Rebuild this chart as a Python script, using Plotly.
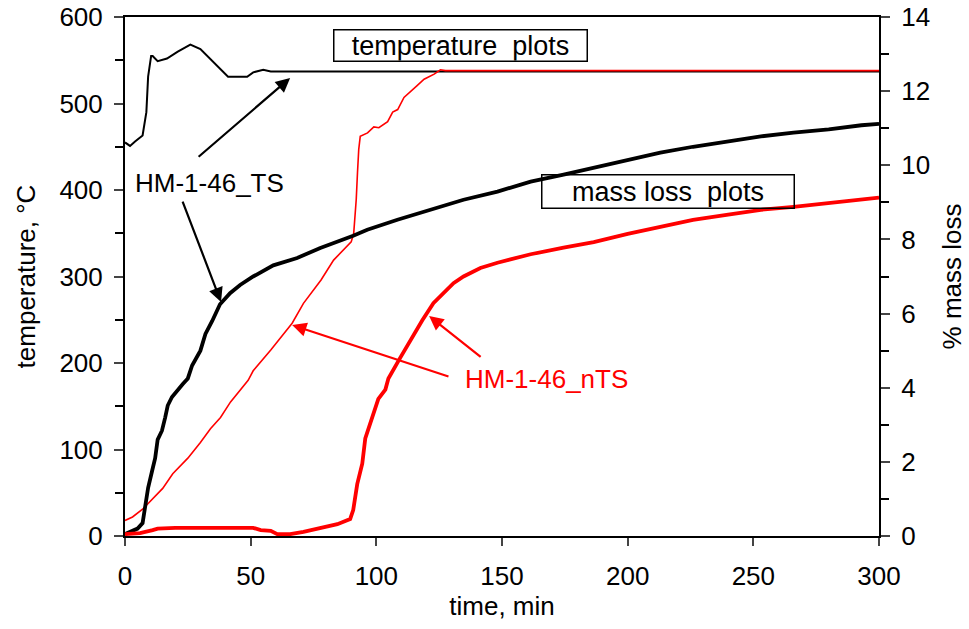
import plotly.graph_objects as go

# ---- temperature, HM-1-46_TS (left axis, degC) ----
ts_temp_t = [0, 2, 4, 7, 8.5, 9.2, 10.4, 11, 13, 16.7, 21, 26, 30, 34, 38, 41, 48.6, 51, 55, 58, 300]
ts_temp_v = [455, 451, 456, 463, 490, 531, 555, 555, 549, 552, 560, 568, 563, 551, 539, 531, 531, 536, 539, 537, 537]

# ---- temperature, HM-1-46_nTS (left axis, degC) ----
nts_temp_t = [0, 3, 7, 11, 15, 19, 25, 30, 34, 38, 42, 49, 51, 58, 66.5, 71, 78, 83, 88, 90, 91,
              92, 92.5, 93, 93.6, 95, 96.5, 99, 101, 104.5, 106.5, 108.5, 111, 116, 119, 123,
              125.5, 127.5, 300]
nts_temp_v = [18, 22, 31, 43, 55, 72, 90, 108, 124, 137, 155, 180, 191, 215, 246, 269, 296, 319, 334, 340, 350,
              389, 420, 447, 462, 464, 466, 473, 472, 479, 490, 493, 507, 520, 528, 534,
              539, 538, 538]

# ---- mass loss, HM-1-46_TS (right axis, %) ----
ts_mass_t = [0, 5, 7, 8, 9.2, 10.8, 12, 13, 14.7, 16, 17, 18.7, 20.7, 23, 25, 26.7, 30, 32, 34.7, 37.8,
             41.8, 45.8, 51, 59, 68.5, 77.7, 90.8, 96.4, 108.4, 121.5, 134.7, 148.2, 161.4, 174.5,
             186.5, 200, 213, 226, 240, 253, 266, 280, 293, 300]
ts_mass_v = [0.05, 0.2, 0.35, 0.76, 1.3, 1.76, 2.1, 2.6, 2.84, 3.2, 3.52, 3.75, 3.93, 4.1, 4.25, 4.6, 5.0, 5.45, 5.8, 6.25,
             6.55, 6.77, 7.0, 7.3, 7.5, 7.77, 8.1, 8.26, 8.53, 8.8, 9.07, 9.29, 9.56, 9.75,
             9.94, 10.15, 10.34, 10.5, 10.64, 10.78, 10.88, 10.97, 11.08, 11.12]

# ---- mass loss, HM-1-46_nTS (right axis, %) ----
nts_mass_t = [0, 6, 11, 13, 20, 51, 54, 58, 60.6, 65.7, 71, 77.7, 84.5, 89.6, 90.8, 92.4, 93.6, 94.4,
              95.6, 96.8, 98.8, 100.8, 103.6, 104.8, 109.6, 113.5, 118.3, 122.7, 126.7, 130.7,
              134.7, 141.4, 148.2, 161.4, 174.5, 186.5, 200, 213, 226, 240, 253, 266, 280, 293, 300]
nts_mass_v = [0.05, 0.08, 0.16, 0.2, 0.22, 0.22, 0.16, 0.14, 0.05, 0.05, 0.11, 0.22, 0.32, 0.46, 0.7, 1.4, 1.76, 1.95,
              2.63, 2.87, 3.3, 3.7, 3.95, 4.25, 4.82, 5.28, 5.82, 6.28, 6.55, 6.82,
              7.0, 7.23, 7.37, 7.6, 7.78, 7.93, 8.15, 8.34, 8.53, 8.67, 8.8, 8.88, 8.99, 9.07, 9.13]

x_ticks = [0, 50, 100, 150, 200, 250, 300]
temp_ticks = [0, 100, 200, 300, 400, 500, 600]
mass_ticks = [0, 2, 4, 6, 8, 10, 12, 14]

FONT = "Liberation Sans, Arial, sans-serif"
RED = "#ff0000"

fig = go.Figure()
fig.add_trace(go.Scatter(x=ts_temp_t, y=ts_temp_v, mode="lines",
                         line=dict(color="black", width=2), yaxis="y"))
fig.add_trace(go.Scatter(x=ts_mass_t, y=ts_mass_v, mode="lines",
                         line=dict(color="black", width=3.8), yaxis="y2"))
fig.add_trace(go.Scatter(x=nts_temp_t, y=nts_temp_v, mode="lines",
                         line=dict(color=RED, width=1.6), yaxis="y"))
fig.add_trace(go.Scatter(x=nts_mass_t, y=nts_mass_v, mode="lines",
                         line=dict(color=RED, width=3.8), yaxis="y2"))

tickfont = dict(family=FONT, size=26, color="black")
titlefont = dict(family=FONT, size=26, color="black")

fig.update_layout(
    width=969, height=629,
    margin=dict(l=125, r=90, t=17, b=93, autoexpand=False),
    paper_bgcolor="white", plot_bgcolor="white",
    showlegend=False,
    font=dict(family=FONT, color="black"),
    xaxis=dict(range=[0, 300], tickvals=x_ticks, ticks="outside", ticklen=8, tickwidth=2,
               showline=True, linewidth=2, linecolor="black", mirror=True, automargin=False,
               showgrid=False, zeroline=False, tickfont=tickfont, ticklabelstandoff=8,
               title=dict(text="time, min", font=titlefont, standoff=6)),
    yaxis=dict(range=[0, 600], tickvals=temp_ticks, ticks="outside", ticklen=9, tickwidth=2,
               minor=dict(tickvals=[50, 150, 250, 350, 450, 550], ticks="outside", ticklen=8,
                          tickwidth=2, tickcolor="black", showgrid=False),
               showline=True, linewidth=2, linecolor="black", automargin=False,
               showgrid=False, zeroline=False, tickfont=tickfont, ticklabelstandoff=6,
               title=dict(text="temperature, °C", font=titlefont, standoff=16)),
    yaxis2=dict(range=[0, 14], tickvals=mass_ticks, ticks="outside", ticklen=9, tickwidth=2,
                minor=dict(tickvals=[1, 3, 5, 7, 9, 11, 13], ticks="outside", ticklen=8,
                           tickwidth=2, tickcolor="black", showgrid=False),
                overlaying="y", side="right", anchor="x", automargin=False,
                showline=True, linewidth=2, linecolor="black",
                showgrid=False, zeroline=False, tickfont=tickfont, ticklabelstandoff=6,
                title=dict(text="% mass loss", font=titlefont, standoff=14)),
    # inner halves of the major ticks (they cross the axis lines)
    yaxis3=dict(range=[0, 600], tickvals=temp_ticks, ticks="inside", ticklen=7, tickwidth=2,
                overlaying="y", side="left", anchor="x", showticklabels=False, automargin=False,
                showline=False, showgrid=False, zeroline=False),
    yaxis4=dict(range=[0, 14], tickvals=mass_ticks, ticks="inside", ticklen=7, tickwidth=2,
                overlaying="y", side="right", anchor="x", showticklabels=False, automargin=False,
                showline=False, showgrid=False, zeroline=False),
)

box_font = dict(family=FONT, size=27, color="black")
label_font = dict(family=FONT, size=26)

annotations = [
    # boxed captions
    dict(x=133.3, y=566.5, xref="x", yref="y", text="temperature\u00a0 plots", showarrow=False,
         font=box_font, bordercolor="black", borderwidth=1.5, borderpad=0, width=252, height=30,
         bgcolor="white"),
    dict(x=215.9, y=398.8, xref="x", yref="y", text="mass loss\u00a0 plots", showarrow=False,
         font=box_font, bordercolor="black", borderwidth=1.5, borderpad=0, width=251, height=32,
         bgcolor="rgba(255,255,255,0)"),
    # series labels
    dict(x=33.8, y=408, xref="x", yref="y", text="HM-1-46_TS", showarrow=False,
         font=dict(label_font, color="black")),
    dict(x=167.9, y=181.5, xref="x", yref="y", text="HM-1-46_nTS", showarrow=False,
         font=dict(label_font, color=RED)),
]

# pointer arrows (tail -> head), in data units of the temperature axis
arrows = [
    ((28.7, 437.0), (65.7, 529.5), "black"),
    ((22.7, 388.4), (38.2, 270.5), "black"),
    ((129.3, 183.8), (66.5, 243.9), RED),
    ((142.1, 205.8), (121.0, 254.3), RED),
]
for (tx, ty), (hx, hy), col in arrows:
    annotations.append(dict(x=hx, y=hy, xref="x", yref="y", ax=tx, ay=ty, axref="x", ayref="y",
                            text="", showarrow=True, arrowhead=2, arrowsize=1.3,
                            arrowwidth=2.2, arrowcolor=col))

fig.update_layout(annotations=annotations)

fig.write_html("out.html")
